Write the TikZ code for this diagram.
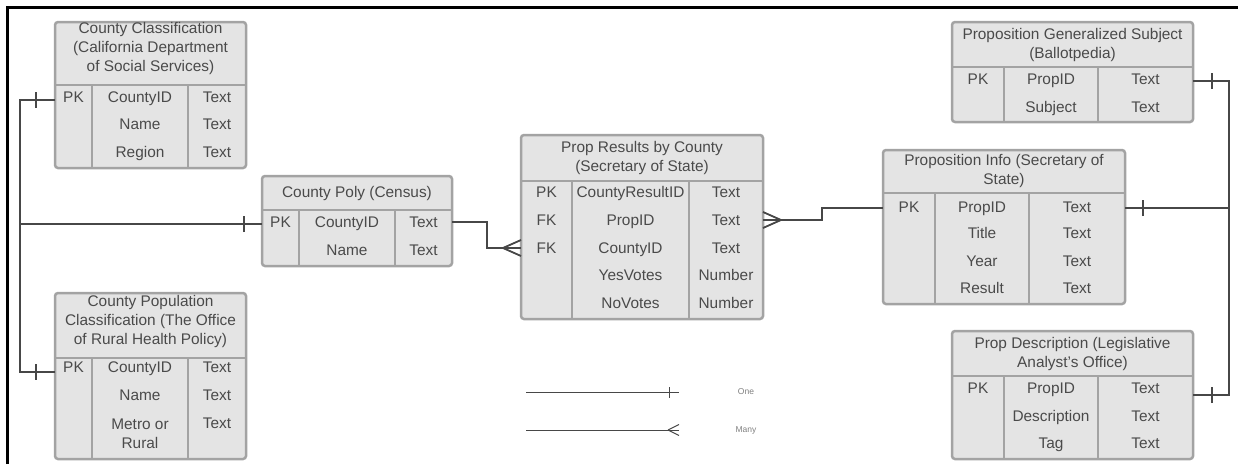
\documentclass[tikz,border=0pt]{standalone}
\usepackage{fontspec}
\setmainfont{Liberation Sans}
\usetikzlibrary{decorations.markings,calc}
\definecolor{boxfill}{HTML}{E4E4E4}
\definecolor{boxedge}{HTML}{A3A3A3}
\definecolor{inkgray}{HTML}{4A4A4A}
\definecolor{linkgray}{HTML}{474747}

\begin{document}
\begin{tikzpicture}[x=1pt, y=-1pt,
        every node/.style={inner sep=0pt, outer sep=0pt, text=inkgray, font=\fontsize{15.4}{19}\selectfont},
        tbl/.style={draw=boxedge, fill=boxfill, line width=2.5pt, rounded corners=3pt},
        rule/.style={draw=boxedge, line width=2.5pt},
        cell/.style={text height=11pt, text depth=0pt},
        title/.style={align=center},
        key/.style={font=\fontsize{8.5}{10}\selectfont, text=gray},
        link/.style={color=linkgray, line width=1.8pt},
        onetick/.style args={#1/#2}{postaction={decorate, decoration={markings,
            mark=at position #1 with {\draw (0pt,-#2) -- (0pt,#2);}}}},
        crowfoot/.style args={#1/#2/#3}{postaction={decorate, decoration={markings,
            mark=at position #1 with {\draw (0pt,0pt) -- (#2,#3) (0pt,0pt) -- (#2,-#3);}}}}]
        \useasboundingbox (0,0) rectangle (1238,464);
        \draw[line width=3pt] (7.5,464) -- (7.5,7.5) -- (1238,7.5);

        % County Classification
        \node[tbl, minimum width=191pt, minimum height=146pt] (cc) at (150.5,95) {};
        \draw[rule] (55,85) -- (246,85) (92,85) -- (92,168) (188,85) -- (188,168);
        \node[title] (cc-head) at (150.5,48.5) {County Classification\\(California Department\\of Social Services)};
        \node[cell] (cc-pk) at (73.5,97) {PK};
        \node[cell] (cc-id) at (140,97) {CountyID};
        \node[cell] (cc-name) at (140,124) {Name};
        \node[cell] (cc-reg) at (140,152) {Region};
        \node[cell] (cc-t1) at (217,97) {Text};
        \node[cell] (cc-t2) at (217,124) {Text};
        \node[cell] (cc-t3) at (217,152) {Text};

        % County Population Classification
        \node[tbl, minimum width=191pt, minimum height=166pt] (cpc) at (150.5,376) {};
        \draw[rule] (55,358) -- (246,358) (92,358) -- (92,459) (188,358) -- (188,459);
        \node[title] (cpc-head) at (150.5,321.5) {County Population\\Classification (The Office\\of Rural Health Policy)};
        \node[cell] (cpc-pk) at (73.5,367) {PK};
        \node[cell] (cpc-id) at (140,367) {CountyID};
        \node[cell] (cpc-name) at (140,395) {Name};
        \node[title] (cpc-mr) at (140,433.5) {Metro or\\Rural};
        \node[cell] (cpc-t1) at (217,367) {Text};
        \node[cell] (cpc-t2) at (217,395) {Text};
        \node[cell] (cpc-t3) at (217,423) {Text};

        % County Poly
        \node[tbl, minimum width=190pt, minimum height=90pt] (cp) at (357,221) {};
        \draw[rule] (262,210) -- (452,210) (299,210) -- (299,266) (395,210) -- (395,266);
        \node[cell] (cp-head) at (357,192) {County Poly (Census)};
        \node[cell] (cp-pk) at (280.5,222) {PK};
        \node[cell] (cp-id) at (347,222) {CountyID};
        \node[cell] (cp-name) at (347,250) {Name};
        \node[cell] (cp-t1) at (423.5,222) {Text};
        \node[cell] (cp-t2) at (423.5,250) {Text};

        % Prop Results by County
        \node[tbl, minimum width=242pt, minimum height=184pt] (pr) at (642,227) {};
        \draw[rule] (521,181) -- (763,181) (572,181) -- (572,319) (689,181) -- (689,319);
        \node[title] (pr-head) at (642,158) {Prop Results by County\\(Secretary of State)};
        \node[cell] (pr-pk) at (546.5,192) {PK};
        \node[cell] (pr-fk1) at (546.5,220) {FK};
        \node[cell] (pr-fk2) at (546.5,248) {FK};
        \node[cell] (pr-rid) at (630.5,192) {CountyResultID};
        \node[cell] (pr-pid) at (630.5,220) {PropID};
        \node[cell] (pr-cid) at (630.5,248) {CountyID};
        \node[cell] (pr-yes) at (630.5,275) {YesVotes};
        \node[cell] (pr-no) at (630.5,303) {NoVotes};
        \node[cell] (pr-t1) at (726,192) {Text};
        \node[cell] (pr-t2) at (726,220) {Text};
        \node[cell] (pr-t3) at (726,248) {Text};
        \node[cell] (pr-n1) at (726,275) {Number};
        \node[cell] (pr-n2) at (726,303) {Number};

        % Proposition Info
        \node[tbl, minimum width=242pt, minimum height=154pt] (pi) at (1004,227) {};
        \draw[rule] (883,193) -- (1125,193) (935,193) -- (935,304) (1029,193) -- (1029,304);
        \node[title] (pi-head) at (1004,171.5) {Proposition Info (Secretary of\\State)};
        \node[cell] (pi-pk) at (909,207) {PK};
        \node[cell] (pi-id) at (982,207) {PropID};
        \node[cell] (pi-title) at (982,233) {Title};
        \node[cell] (pi-year) at (982,261) {Year};
        \node[cell] (pi-res) at (982,288) {Result};
        \node[cell] (pi-t1) at (1077,207) {Text};
        \node[cell] (pi-t2) at (1077,233) {Text};
        \node[cell] (pi-t3) at (1077,261) {Text};
        \node[cell] (pi-t4) at (1077,288) {Text};

        % Proposition Generalized Subject
        \node[tbl, minimum width=241pt, minimum height=100pt] (pgs) at (1072.5,72) {};
        \draw[rule] (952,67) -- (1193,67) (1004,67) -- (1004,122) (1098,67) -- (1098,122);
        \node[title] (pgs-head) at (1072.5,45) {Proposition Generalized Subject\\(Ballotpedia)};
        \node[cell] (pgs-pk) at (978,79) {PK};
        \node[cell] (pgs-id) at (1051,79) {PropID};
        \node[cell] (pgs-subj) at (1051,107) {Subject};
        \node[cell] (pgs-t1) at (1145.5,79) {Text};
        \node[cell] (pgs-t2) at (1145.5,107) {Text};

        % Prop Description
        \node[tbl, minimum width=241pt, minimum height=128pt] (pd) at (1072.5,395) {};
        \draw[rule] (952,376) -- (1193,376) (1004,376) -- (1004,459) (1098,376) -- (1098,459);
        \node[title] (pd-head) at (1072.5,354) {Prop Description (Legislative\\Analyst's Office)};
        \node[cell] (pd-pk) at (978,388) {PK};
        \node[cell] (pd-id) at (1051,388) {PropID};
        \node[cell] (pd-desc) at (1051,416) {Description};
        \node[cell] (pd-tag) at (1051,443) {Tag};
        \node[cell] (pd-t1) at (1145.5,388) {Text};
        \node[cell] (pd-t2) at (1145.5,416) {Text};
        \node[cell] (pd-t3) at (1145.5,443) {Text};

        % relations
        \coordinate (jl) at (20,224);
        \coordinate (jr) at (1229,208);
        \draw[link, onetick={19pt/8pt}, onetick={-18pt/8pt}] ($(cc.west |- cc-pk)+(0,3)$) -| (jl) -- (cp.west |- jl);
        \draw[link, onetick={19pt/8pt}] ($(cpc.west |- cpc-pk)+(0,5)$) -| (jl);
        \draw[link, crowfoot={-18pt/18pt/8pt}] (cp.east |- cp-pk) -- ++(35,0) |- (pr.west |- pr-cid);
        \draw[link, crowfoot={18pt/-18pt/8pt}] (pr.east |- pr-pid) -- ++(59,0) |- (pi.west |- jr);
        \draw[link, onetick={19pt/8pt}] ($(pgs.east |- pgs-pk)+(0,2)$) -| (jr);
        \draw[link, onetick={18pt/8pt}] (pi.east |- jr) -- (jr);
        \draw[link, onetick={19pt/8pt}] ($(pd.east |- pd-pk)+(0,7)$) -| (jr);

        % legend
        \coordinate (one-a) at (526,392);
        \coordinate (one-b) at (679,392);
        \coordinate (many-a) at (526,430);
        \coordinate (many-b) at (679,430);
        \draw[link, line width=1pt, onetick={-10pt/5.5pt}] (one-a) -- (one-b);
        \draw[link, line width=1pt, crowfoot={-11pt/11pt/5.5pt}] (many-a) -- (many-b);
        \node[key] (one-lbl) at (746,392) {One};
        \node[key] (many-lbl) at (746,430) {Many};
\end{tikzpicture}
\end{document}
